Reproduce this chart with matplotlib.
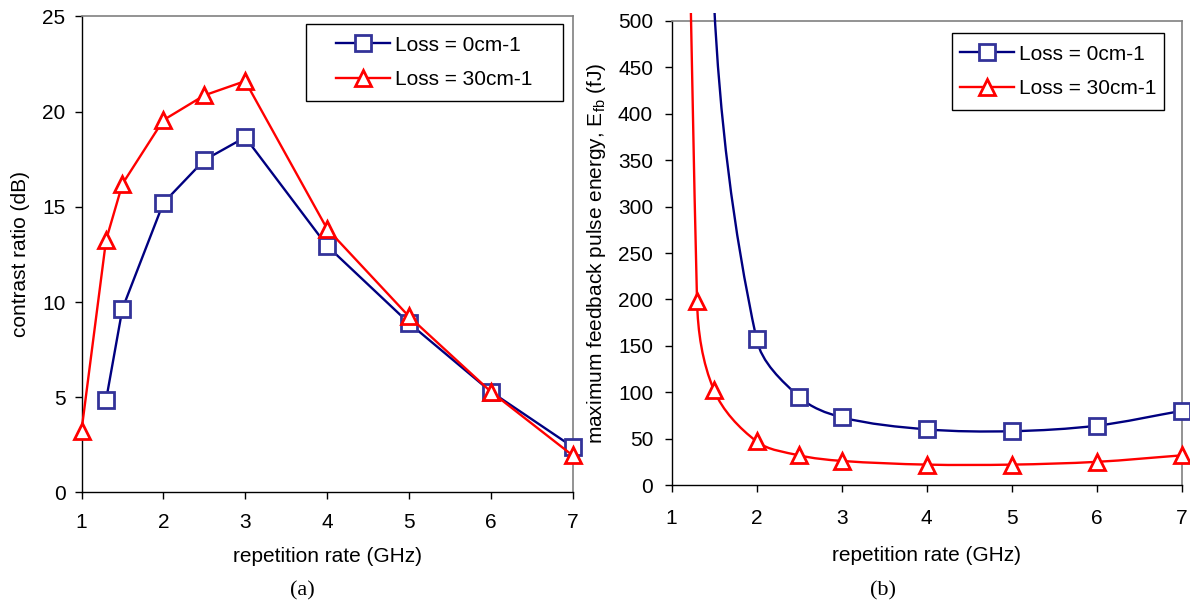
import numpy as np
import matplotlib
matplotlib.use("Agg")
import matplotlib.pyplot as plt
from matplotlib.path import Path
from matplotlib.patches import PathPatch, Rectangle
from matplotlib.lines import Line2D

# -----------------------
# Data
# -----------------------
# (a) contrast ratio vs repetition rate
rate_a_blue = [1.3, 1.5, 2, 2.5, 3, 4, 5, 6, 7]
contrast_blue = [4.85, 9.65, 15.2, 17.45, 18.65, 12.95, 8.9, 5.3, 2.4]
rate_a_red = [1.0, 1.3, 1.5, 2, 2.5, 3, 4, 5, 6, 7]
contrast_red = [3.25, 13.25, 16.2, 19.55, 20.85, 21.6, 13.85, 9.25, 5.3, 1.95]

# (b) max feedback pulse energy (fJ); first points lie above the plot range
rate_b_blue = [1.3, 1.5, 2, 2.5, 3, 4, 5, 6, 7]
energy_blue = [1500, 520, 157, 95, 73, 60, 58, 64, 80]
rate_b_red = [1.0, 1.3, 1.5, 2, 2.5, 3, 4, 5, 6, 7]
energy_red = [2000, 198, 102, 47, 32, 26, 22, 22, 25, 32]

labels = ["Loss = 0cm-1", "Loss = 30cm-1"]
x_ticks = [1, 2, 3, 4, 5, 6, 7]

# -----------------------
# Style
# -----------------------
plt.rcParams["font.family"] = ["Liberation Sans", "DejaVu Sans"]
plt.rcParams["font.size"] = 15
plt.rcParams["mathtext.default"] = "regular"

NAVY = "#000080"
BLUE_EDGE = "#333399"
RED = "#FF0000"
LW = 1.7
sq = dict(marker="s", ms=11.5, mfc="white", mec=BLUE_EDGE, mew=2.0)
tri = dict(marker="^", ms=11.5, mfc="white", mec=RED, mew=2.0)


def style_axes(ax, xpad, ypad):
    for s in ("top", "right"):
        ax.spines[s].set_color("#808080")
        ax.spines[s].set_linewidth(1.2)
    for s in ("left", "bottom"):
        ax.spines[s].set_color("black")
        ax.spines[s].set_linewidth(1.0)
    ax.tick_params(direction="out", length=5, width=1, top=False, right=False)
    ax.tick_params(axis="x", pad=xpad)
    ax.tick_params(axis="y", pad=ypad)


def smooth_path(ax, x, y):
    # Excel-like smoothed line: cubic Bezier through the points,
    # built in display space then mapped back to data coords
    P = ax.transData.transform(np.column_stack([x, y]))
    n = len(P)
    T = np.zeros_like(P)
    for i in range(n):
        d = P[min(i + 1, n - 1)] - P[max(i - 1, 0)]
        T[i] = d / np.hypot(*d)
    verts = [P[0]]
    codes = [Path.MOVETO]
    for i in range(n - 1):
        L = np.hypot(*(P[i + 1] - P[i]))
        verts += [P[i] + T[i] * L / 3, P[i + 1] - T[i + 1] * L / 3, P[i + 1]]
        codes += [Path.CURVE4] * 3
    return Path(ax.transData.inverted().transform(np.array(verts)), codes)


def legend_box(ax, handles, box):
    x0, y0, x1, y1 = box
    ax.legend(handles, labels, loc="center", bbox_to_anchor=(x0, y0, x1 - x0, y1 - y0),
              bbox_transform=ax.transAxes, frameon=False, handlelength=2.6,
              handletextpad=0.22, labelspacing=0.75, borderpad=0, numpoints=1)
    ax.add_patch(Rectangle((x0, y0), x1 - x0, y1 - y0, transform=ax.transAxes,
                           fill=False, edgecolor="black", lw=1.0, clip_on=False, zorder=5))


fig = plt.figure(figsize=(11.9, 6.05), dpi=100)

# -----------------------
# (a)
# -----------------------
ax1 = fig.add_axes([0.0685, 0.186, 0.4126, 0.787])
ax1.plot(rate_a_blue, contrast_blue, color=NAVY, lw=LW, clip_on=False, zorder=3, **sq)
ax1.plot(rate_a_red, contrast_red, color=RED, lw=LW, clip_on=False, zorder=4, **tri)
ax1.set_xlim(1, 7)
ax1.set_ylim(0, 25)
ax1.set_xticks(x_ticks)
ax1.set_yticks(np.arange(0, 26, 5))
style_axes(ax1, xpad=9.5, ypad=6.5)
ax1.set_xlabel("repetition rate (GHz)")
ax1.set_ylabel("contrast ratio (dB)")
ax1.xaxis.set_label_coords(0.5, -0.115)
ax1.yaxis.set_label_coords(-0.105, 0.5)

h1 = [Line2D([], [], color=NAVY, lw=LW, **sq), Line2D([], [], color=RED, lw=LW, **tri)]
legend_box(ax1, h1, (0.457, 0.8225, 0.98, 0.984))

# -----------------------
# (b)
# -----------------------
ax2 = fig.add_axes([0.5643, 0.1983, 0.429, 0.767])
ax2.set_xlim(1, 7)
ax2.set_ylim(0, 500)
ax2.set_xticks(x_ticks)
ax2.set_yticks(np.arange(0, 501, 50))
style_axes(ax2, xpad=12, ypad=8.3)

line_clip = Rectangle((0, 0), 1, 1.018, transform=ax2.transAxes)
mark_clip = Rectangle((-0.04, -0.04), 1.08, 1.06, transform=ax2.transAxes)
for xs, ys, col, mk, z in [(rate_b_blue, energy_blue, NAVY, sq, 3),
                           (rate_b_red, energy_red, RED, tri, 4)]:
    pp = PathPatch(smooth_path(ax2, xs, ys), facecolor="none", edgecolor=col, lw=LW, zorder=z)
    ax2.add_patch(pp)
    pp.set_clip_path(line_clip)
    ln, = ax2.plot(xs, ys, linestyle="none", zorder=z + 0.5, **mk)
    ln.set_clip_path(mark_clip)

ax2.set_xlabel("repetition rate (GHz)")
ax2.set_ylabel("maximum feedback pulse energy, E$_{fb}$ (fJ)")
ax2.xaxis.set_label_coords(0.5, -0.132)
ax2.yaxis.set_label_coords(-0.125, 0.5)

h2 = [Line2D([], [], color=NAVY, lw=LW, **sq), Line2D([], [], color=RED, lw=LW, **tri)]
legend_box(ax2, h2, (0.549, 0.808, 0.965, 0.975))

# captions
fig.text(302 / 1190, 1 - 591 / 605, "(a)", ha="center", va="center",
         family="Liberation Serif", fontsize=16)
fig.text(883 / 1190, 1 - 591 / 605, "(b)", ha="center", va="center",
         family="Liberation Serif", fontsize=16)

fig.savefig("out.png", dpi=100)
